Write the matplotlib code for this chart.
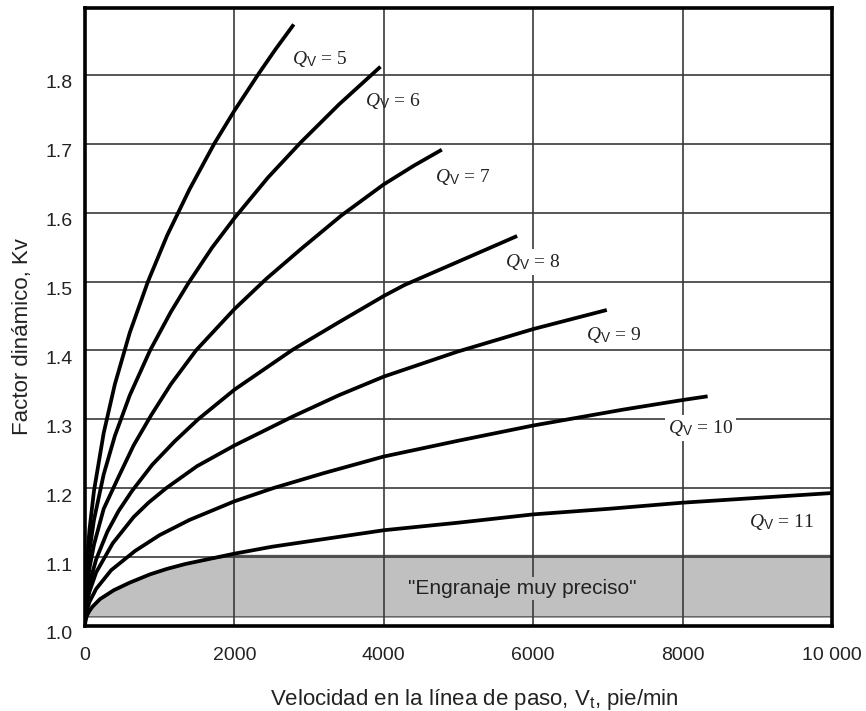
import numpy as np
import matplotlib
matplotlib.use("Agg")
import matplotlib.pyplot as plt
from matplotlib.transforms import ScaledTranslation

# valores (Vt en pie/min, Kv)
qv5_v = [0, 5, 25, 60, 120, 250, 400, 600, 843, 1100, 1400, 1730, 2000, 2327, 2550, 2780]
qv5_k = [1.0, 1.041, 1.091, 1.140, 1.196, 1.280, 1.351, 1.426, 1.500, 1.567, 1.634, 1.700, 1.748,
         1.802, 1.837, 1.871]

qv6_v = [0, 5, 25, 60, 120, 250, 400, 600, 871, 1150, 1386, 1700, 2000, 2450, 2889, 3400, 3836, 3937]
qv6_k = [1.0, 1.032, 1.071, 1.109, 1.154, 1.220, 1.276, 1.335, 1.400, 1.456, 1.498, 1.549, 1.592,
         1.651, 1.702, 1.757, 1.800, 1.810]

qv7_v = [0, 5, 25, 60, 120, 250, 443, 650, 886, 1150, 1486, 2000, 2428, 2900, 3434, 4000, 4400, 4755]
qv7_k = [1.0, 1.025, 1.055, 1.084, 1.118, 1.170, 1.215, 1.262, 1.306, 1.351, 1.400, 1.460, 1.504,
         1.548, 1.596, 1.641, 1.668, 1.690]

qv8_v = [0, 5, 25, 60, 150, 300, 450, 629, 900, 1200, 1514, 2000, 2780, 3400, 4000, 4278, 5000, 5762]
qv8_k = [1.0, 1.018, 1.040, 1.062, 1.097, 1.137, 1.167, 1.196, 1.234, 1.268, 1.300, 1.343, 1.401,
         1.441, 1.479, 1.495, 1.529, 1.565]

qv9_v = [0, 5, 25, 60, 150, 371, 650, 850, 1086, 1500, 2000, 2780, 3400, 4000, 4980, 6000, 6961]
qv9_k = [1.0, 1.015, 1.033, 1.050, 1.078, 1.120, 1.158, 1.179, 1.200, 1.232, 1.262, 1.304, 1.335,
         1.362, 1.398, 1.431, 1.458]

qv10_v = [0, 5, 25, 60, 150, 350, 671, 1000, 1400, 2000, 2516, 3200, 4000, 5000, 6000, 7200, 8000, 8310]
qv10_k = [1.0, 1.010, 1.023, 1.035, 1.054, 1.081, 1.109, 1.132, 1.154, 1.181, 1.200, 1.222, 1.246,
          1.269, 1.291, 1.314, 1.328, 1.333]

qv11_v = [0, 5, 15, 30, 60, 100, 200, 386, 600, 871, 1100, 1343, 1650, 2000, 2500, 3000, 4000, 5000,
          6000, 7000, 8000, 9000, 10000]
qv11_k = [1.0, 1.007, 1.011, 1.016, 1.022, 1.028, 1.039, 1.052, 1.063, 1.075, 1.083, 1.090, 1.097,
          1.105, 1.115, 1.123, 1.139, 1.150, 1.162, 1.170, 1.179, 1.186, 1.193]

curvas = [(qv5_v, qv5_k), (qv6_v, qv6_k), (qv7_v, qv7_k), (qv8_v, qv8_k),
          (qv9_v, qv9_k), (qv10_v, qv10_k), (qv11_v, qv11_k)]

# etiquetas de cada curva (posición en datos)
etiquetas = ["5", "6", "7", "8", "9", "10", "11"]
etiq_v = [3145, 4119, 5060, 5990, 7078, 8240, 9324]
etiq_k = [1.8235, 1.762, 1.651, 1.528, 1.423, 1.287, 1.151]
etiq_fondo = [False, False, False, True, False, True, False]

# zona de "engranaje muy preciso"
zona_inf = 1.014
zona_sup = 1.103

x_ticks = [0, 2000, 4000, 6000, 8000, 10000]
x_tick_labels = ["0", "2000", "4000", "6000", "8000", "10 000"]
y_ticks = [1.0, 1.1, 1.2, 1.3, 1.4, 1.5, 1.6, 1.7, 1.8]

plt.rcParams["mathtext.fontset"] = "custom"
plt.rcParams["mathtext.it"] = "Liberation Serif:italic"
plt.rcParams["mathtext.rm"] = "Liberation Serif"
plt.rcParams["mathtext.sf"] = "Liberation Sans"
plt.rcParams["font.family"] = ["Liberation Sans", "DejaVu Sans"]

fig = plt.figure(figsize=(8.66, 7.11), dpi=100)
ax = fig.add_axes([85 / 866, 1 - 626 / 711, 747 / 866, 618 / 711])

# región gris
v11 = np.array(qv11_v)
k11 = np.array(qv11_k)
ax.fill_between(v11, zona_inf, np.minimum(k11, zona_sup), where=k11 >= zona_inf,
                facecolor="#c0c0c0", edgecolor="#555555", linewidth=1.0, zorder=1)
ax.text(5854, 1.054, '"Engranaje muy preciso"', fontsize=15, color="#222222",
        ha="center", va="center", zorder=3,
        bbox=dict(boxstyle="square,pad=0.1", facecolor="#c0c0c0", edgecolor="none"))

# curvas
for v, k in curvas:
    ax.plot(v, k, color="black", linewidth=2.7, solid_joinstyle="round", zorder=4)

for txt, v, k, fondo in zip(etiquetas, etiq_v, etiq_k, etiq_fondo):
    kw = {}
    if fondo:
        kw["bbox"] = dict(boxstyle="square,pad=0.15", facecolor="white", edgecolor="none")
    ax.text(v, k, r"$Q_{\mathsf{V}}$ = " + txt, fontsize=14, color="#222222",
            family=["Liberation Serif", "DejaVu Serif"], ha="center", va="center",
            zorder=5, **kw)

ax.set_xlim(0, 10000)
ax.set_ylim(1.0, 1.897)
ax.set_xticks(x_ticks)
ax.set_xticklabels(x_tick_labels)
ax.set_yticks(y_ticks)
ax.set_yticklabels([f"{y:.1f}" for y in y_ticks])
ax.tick_params(length=0, labelsize=14, colors="#222222")
ax.tick_params(axis="x", pad=15)
ax.tick_params(axis="y", pad=9)

ax.set_axisbelow("line")
ax.grid(True, color="#3a3a3a", linewidth=1.2)

for s in ax.spines.values():
    s.set_linewidth(2.6)
    s.set_color("black")
    s.set_zorder(6)

# las etiquetas del eje y quedan un poco por debajo de la línea
offset = ScaledTranslation(0, -5 / 72, fig.dpi_scale_trans)
for lab in ax.get_yticklabels():
    lab.set_transform(lab.get_transform() + offset)

ax.set_xlabel("Velocidad en la línea de paso, V$_{\\mathsf{t}}$, pie/min", fontsize=16, color="#222222")
ax.xaxis.set_label_coords(0.521, -0.098)
ax.set_ylabel("Factor dinámico, Kv", fontsize=16, color="#222222")
ax.yaxis.set_label_coords(-0.070, 0.468)

fig.savefig("out.png", dpi=100)
